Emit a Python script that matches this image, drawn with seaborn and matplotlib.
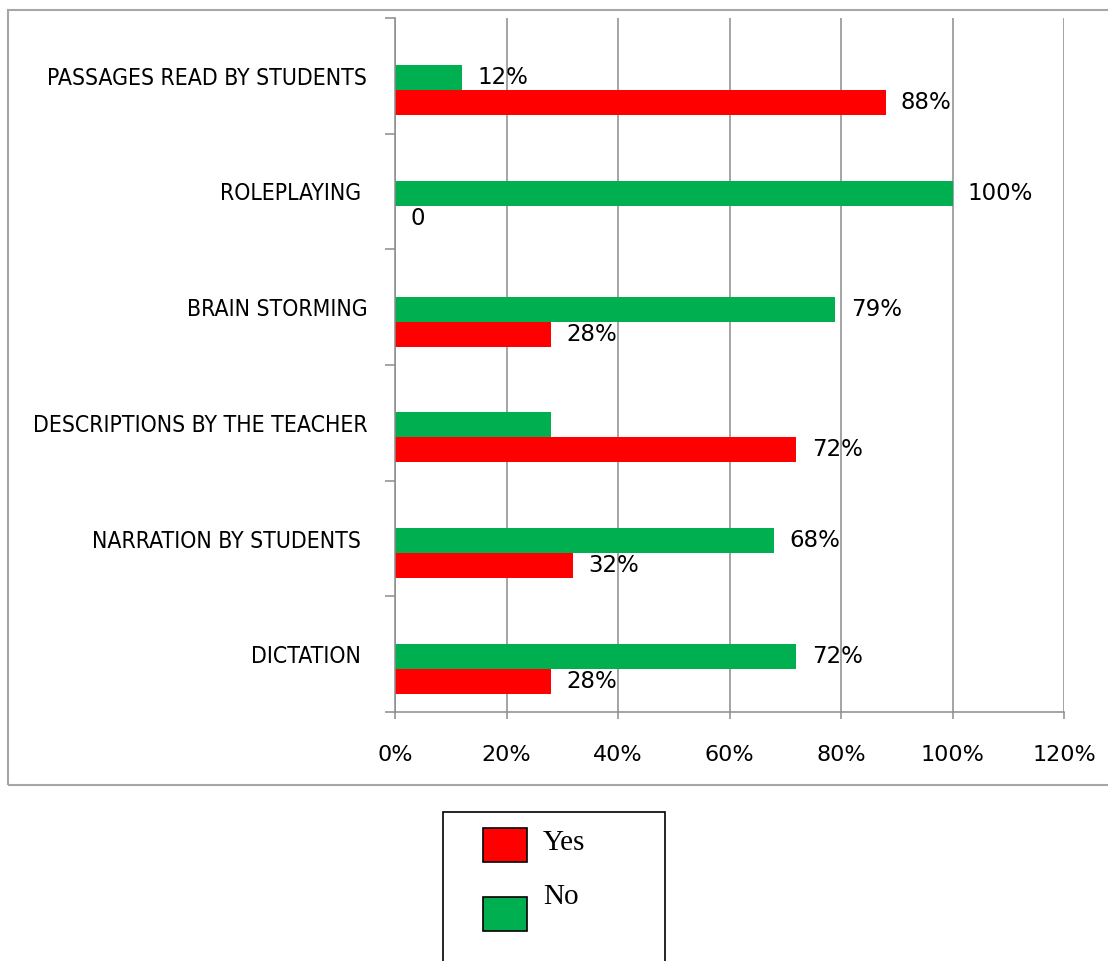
import matplotlib
matplotlib.use("Agg")
import matplotlib.pyplot as plt
from matplotlib import font_manager
from matplotlib.patches import Rectangle
import pandas as pd
import seaborn as sns

# --- data ---
categories = [
    "PASSAGES READ BY STUDENTS",
    "ROLEPLAYING ",
    "BRAIN STORMING",
    "DESCRIPTIONS BY THE TEACHER",
    "NARRATION BY STUDENTS ",
    "DICTATION ",
]
no_values = [12, 100, 79, 28, 68, 72]
yes_values = [88, 0, 28, 72, 32, 28]
no_labels = ["12%", "100%", "79%", "", "68%", "72%"]
yes_labels = ["88%", "0", "28%", "72%", "32%", "28%"]
x_ticks = [0, 20, 40, 60, 80, 100, 120]
responses = ["No", "Yes"]          # drawing order inside a group (green on top)
legend_order = ["Yes", "No"]

GREEN = "#00B050"
RED = "#FF0000"
GRID = "#8c8c8c"
palette = {"No": GREEN, "Yes": RED}

W, H = 1108, 961

df = pd.DataFrame({
    "Technique": categories * 2,
    "Response": ["No"] * len(categories) + ["Yes"] * len(categories),
    "Percent": no_values + yes_values,
})

sns.set_theme(style="white")
plt.rcParams["font.family"] = ["DejaVu Sans"]
plt.rcParams["text.color"] = "black"
plt.rcParams["xtick.labelcolor"] = "black"
plt.rcParams["ytick.labelcolor"] = "black"

# pick a narrow face for the category names if one is installed
names = {f.name for f in font_manager.fontManager.ttflist}
dejavu_cond = any(f.name == "DejaVu Sans" and "condensed" in str(f.stretch)
                  for f in font_manager.fontManager.ttflist)
if "Liberation Sans Narrow" in names:
    cat_font = dict(family="Liberation Sans Narrow", size=18.3)
elif dejavu_cond:
    cat_font = dict(family="DejaVu Sans", stretch="condensed", size=16.5)
else:
    cat_font = dict(family="DejaVu Sans", size=14.5)

fig = plt.figure(figsize=(W / 100, H / 100), dpi=100)
ax = fig.add_axes([395 / W, 1 - 712 / H, (1064 - 395) / W, (712 - 18) / H])

bar_w = 0.432
sns.barplot(data=df, x="Percent", y="Technique", hue="Response",
            order=categories, hue_order=responses, palette=palette,
            width=bar_w, orient="h", errorbar=None, saturation=1,
            linewidth=0, legend=False, ax=ax)

# labels at the end of each bar
for cont, labs in zip(ax.containers, [no_labels, yes_labels]):
    texts = []
    for bar in cont:
        idx = int(round(bar.get_y() + bar.get_height() / 2))
        texts.append(labs[idx])
    ax.bar_label(cont, labels=texts, padding=11, fontsize=16.5, color="black")

# group sits a little below the band centre in the original
off = bar_w / 4 + 0.018
n = len(categories)
ax.set_xlim(0, 120)
ax.set_ylim(n - 0.5 - off, -0.5 - off)

ax.set_xticks(x_ticks)
ax.set_xticklabels([f"{t}%" for t in x_ticks], fontsize=16)
ax.tick_params(axis="x", length=5, width=1.1, color=GRID, pad=19,
               bottom=True, direction="out")

ax.set_yticks([i - off for i in range(n)])
ax.set_yticklabels(categories, **cat_font)
ax.set_yticks([i - off - 0.5 for i in range(n + 1)], minor=True)
ax.tick_params(axis="y", which="major", length=0, pad=20)
ax.tick_params(axis="y", which="minor", length=7.5, width=1.1, color=GRID,
               left=True, direction="out")

ax.set_xlabel("")
ax.set_ylabel("")
ax.xaxis.grid(True, color=GRID, linewidth=1.1)
ax.yaxis.grid(False)
ax.set_axisbelow(True)
for side in ["top", "right"]:
    ax.spines[side].set_visible(False)
for side in ["left", "bottom"]:
    ax.spines[side].set_color(GRID)
    ax.spines[side].set_linewidth(1.1)

# outer chart frame
fig.add_artist(Rectangle((8 / W, 1 - 785 / H), (1130 - 8) / W, (785 - 10) / H,
                         transform=fig.transFigure, fill=False,
                         edgecolor="#a6a6a6", linewidth=1.5))

# legend box below the chart
fig.add_artist(Rectangle((443 / W, 1 - 975 / H), (665 - 443) / W, (975 - 812) / H,
                         transform=fig.transFigure, facecolor="white",
                         edgecolor="black", linewidth=1.2))
sw_top = {"Yes": 828, "No": 897}
txt_mid = {"Yes": 843, "No": 897}
for lab in legend_order:
    fig.add_artist(Rectangle((483 / W, 1 - (sw_top[lab] + 34) / H), 44 / W, 34 / H,
                             transform=fig.transFigure, facecolor=palette[lab],
                             edgecolor="black", linewidth=1.2))
    fig.text(543 / W, 1 - txt_mid[lab] / H, lab, family="Liberation Serif",
             fontsize=21, va="center", ha="left", color="black")

fig.savefig("out.png", dpi=100)
